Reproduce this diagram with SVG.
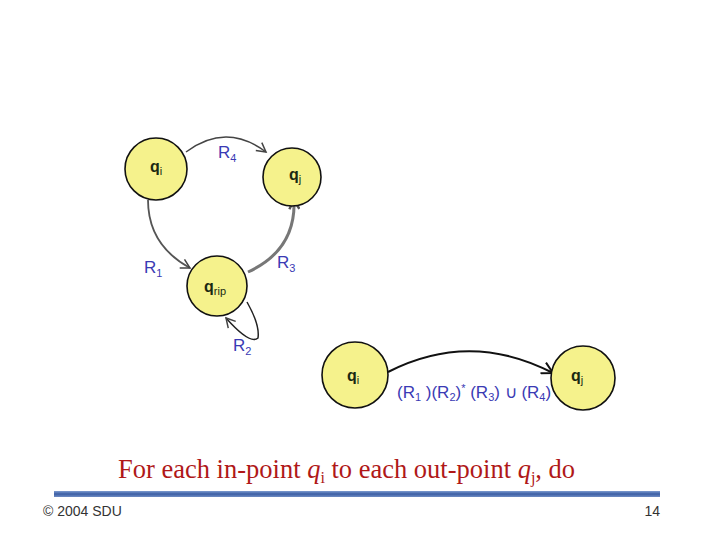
<svg xmlns="http://www.w3.org/2000/svg" width="720" height="540" viewBox="0 0 720 540">
<defs>
<marker id="ah" markerWidth="12" markerHeight="12" refX="10" refY="6" orient="auto" markerUnits="userSpaceOnUse">
<path d="M1,1 L10,6 L1,11" fill="none" stroke="#444" stroke-width="1.5"/>
</marker>
<marker id="ahk" markerWidth="14" markerHeight="14" refX="12" refY="7" orient="auto" markerUnits="userSpaceOnUse">
<path d="M1,1 L12,7 L1,13" fill="none" stroke="#111" stroke-width="2"/>
</marker>
<marker id="ahg" markerWidth="12" markerHeight="12" refX="10" refY="6" orient="auto" markerUnits="userSpaceOnUse">
<path d="M1,1 L10,6 L1,11" fill="none" stroke="#555" stroke-width="2.5"/>
</marker>
<linearGradient id="bar" x1="0" y1="0" x2="0" y2="1">
<stop offset="0" stop-color="#7d9bd0"/>
<stop offset="0.5" stop-color="#3b5ea4"/>
<stop offset="1" stop-color="#6f8cc4"/>
</linearGradient>
</defs>
<style>
.st{fill:#f5f28c;stroke:#111;stroke-width:1.6}
.q{font-family:"Liberation Sans",Arial,sans-serif;font-size:16px;font-weight:bold;fill:#1a2a12}
.qs{font-size:11px;font-weight:normal}
.r{font-family:"Liberation Sans",Arial,sans-serif;font-size:17px;fill:#3a3ab4}
.rs{font-size:11px}
.e{fill:none}
</style>
<rect width="720" height="540" fill="#fff"/>
<g id="connectors">
<path class="e" d="M186,152 Q226,122 266,152" stroke="#444" stroke-width="1.5" marker-end="url(#ah)"/>
<path class="e" d="M148,200 Q148,245 190,268" stroke="#555" stroke-width="1.8" marker-end="url(#ah)"/>
<path class="e" d="M248,272 Q296,250 294,200" stroke="#777" stroke-width="3" marker-end="url(#ahg)"/>
<path class="e" d="M247,302 Q260,325 258,338 Q250,345 226,318" stroke="#222" stroke-width="1.5" marker-end="url(#ah)"/>
<path class="e" d="M388,372 Q470,330 553,373" stroke="#111" stroke-width="2" marker-end="url(#ahk)"/>
</g>
<g id="qi">
<circle class="st" cx="156" cy="169" r="31"/>
<text class="q" x="150" y="172">q<tspan class="qs" dy="3">i</tspan></text>
</g>
<g id="qj">
<circle class="st" cx="292" cy="177" r="29"/>
<text class="q" x="289" y="180">q<tspan class="qs" dy="3">j</tspan></text>
</g>
<g id="qrip">
<circle class="st" cx="217" cy="286" r="30"/>
<text class="q" x="204" y="292">q<tspan class="qs" dy="3">rip</tspan></text>
</g>
<g id="qi2">
<circle class="st" cx="355" cy="375" r="33"/>
<text class="q" x="347" y="381">q<tspan class="qs" dy="3">i</tspan></text>
</g>
<g id="qj2">
<circle class="st" cx="583" cy="378" r="32"/>
<text class="q" x="571" y="381">q<tspan class="qs" dy="3">j</tspan></text>
</g>
<g id="labels">
<text class="r" x="218" y="158">R<tspan class="rs" dy="4">4</tspan></text>
<text class="r" x="144" y="273">R<tspan class="rs" dy="4">1</tspan></text>
<text class="r" x="277" y="268">R<tspan class="rs" dy="4">3</tspan></text>
<text class="r" x="233" y="351">R<tspan class="rs" dy="4">2</tspan></text>
<text class="r" x="397" y="398" style="font-size:17px">(R<tspan class="rs" dy="3">1</tspan><tspan dy="-3"> )(R</tspan><tspan class="rs" dy="3">2</tspan><tspan dy="-3">)</tspan><tspan class="rs" dy="-6">*</tspan><tspan dy="6"> (R</tspan><tspan class="rs" dy="3">3</tspan><tspan dy="-3">) ∪ (R</tspan><tspan class="rs" dy="3">4</tspan><tspan dy="-3">)</tspan></text>
</g>
<text x="118" y="478" font-family="'Liberation Serif','Times New Roman',serif" font-size="26.5" fill="#b01818">For each in-point <tspan font-style="italic">q</tspan><tspan font-size="16" dy="5">i</tspan><tspan dy="-5"> to each out-point </tspan><tspan font-style="italic">q</tspan><tspan font-size="16" dy="5">j</tspan><tspan dy="-5">, do</tspan></text>
<rect x="54" y="491" width="606" height="6" fill="url(#bar)"/>
<text x="43" y="516" font-family="'Liberation Sans',Arial,sans-serif" font-size="14" fill="#333">© 2004 SDU</text>
<text x="660" y="516" text-anchor="end" font-family="'Liberation Sans',Arial,sans-serif" font-size="14" fill="#333">14</text>
</svg>
